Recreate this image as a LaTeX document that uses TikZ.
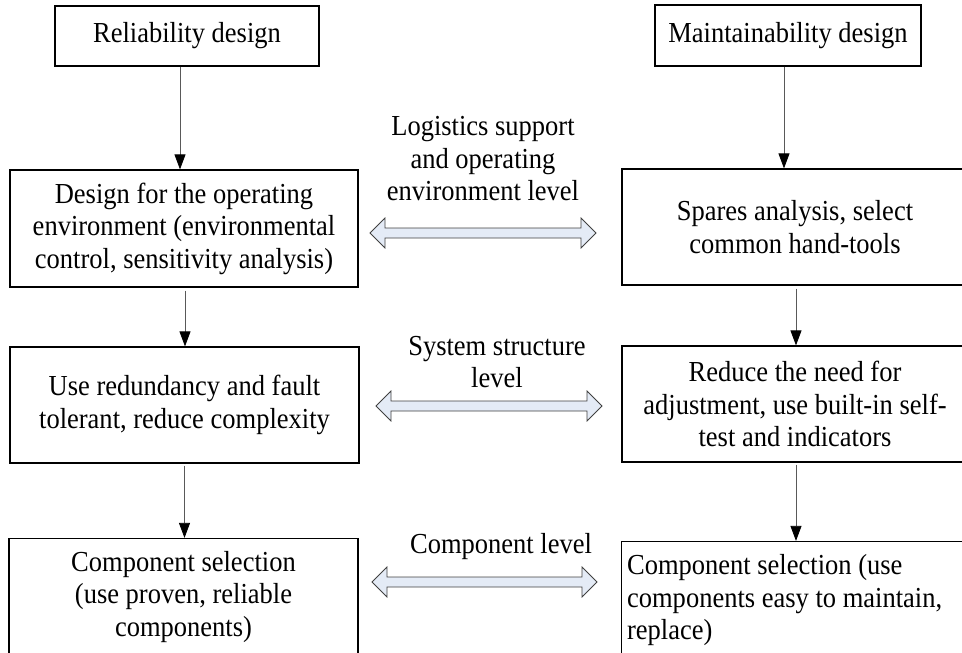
\documentclass[tikz,border=0pt]{standalone}
\usepackage{fontspec}
\setmainfont{Liberation Serif}[FakeStretch=0.914]
\usetikzlibrary{arrows.meta}
\definecolor{arrowfill}{HTML}{E4EBF6}
\definecolor{arrowline}{HTML}{404040}
\newcommand\mydblarrow[3]{%
  \draw[dbl] (#1,#3) -- (#1+15,#3-15) -- (#1+15,#3-5) -- (#2-15,#3-5) -- (#2-15,#3-15)
    -- (#2,#3) -- (#2-15,#3+15) -- (#2-15,#3+5) -- (#1+15,#3+5) -- (#1+15,#3+15) -- cycle;}
\begin{document}
\begin{tikzpicture}[x=1pt,y=-1pt,
  box/.style={draw=black,line width=1.2pt,align=center,inner sep=0pt,
    font=\fontsize{29}{32.5}\selectfont},
  lbl/.style={align=center,inner sep=0pt,font=\fontsize{29}{32.5}\selectfont},
  conn/.style={draw=black!65,line width=0.8pt,-{Triangle[length=15pt,width=11pt,color=black]}},
  dbl/.style={draw=arrowline,fill=arrowfill,line width=0.8pt,line join=miter}]
\useasboundingbox (0,0) rectangle (962,653);
\clip (0,0) rectangle (962,653);
% left column
\node[box,minimum width=264pt,minimum height=60pt] (R1) at (187,36) {Reliability design};
\node[box,minimum width=348pt,minimum height=117pt] (R2) at (184,228.5)
  {Design for the operating\\environment (environmental\\control, sensitivity analysis)};
\node[box,minimum width=349pt,minimum height=116pt] (R3) at (184.5,405)
  {Use redundancy and fault\\tolerant, reduce complexity};
\node[box,minimum width=349pt,minimum height=117pt] (R4) at (183.5,597)
  {Component selection\\(use proven, reliable\\components)};
% right column
\node[box,minimum width=266pt,minimum height=61pt] (M1) at (788,35.5) {Maintainability design};
\node[box,minimum width=346pt,minimum height=116pt] (M2) at (795,227)
  {Spares analysis, select\\common hand-tools};
\node[box,minimum width=346pt,minimum height=116pt] (M3) at (795,404)
  {Reduce the need for\\adjustment, use built-in self-\\test and indicators};
\node[box,minimum width=346pt,minimum height=116pt] (M4) at (794.5,599.5) {};
\node[lbl,align=left,anchor=west] (M4t) at ([xshift=6pt,yshift=-1pt]M4.west)
  {Component selection (use\\components easy to maintain,\\replace)};
% vertical connectors
\draw[conn] ([xshift=-7pt]R1.south) -- ([xshift=-7pt]R1.south |- R2.north);
\draw[conn] ([xshift=1pt,yshift=-3pt]R2.south) -- ([xshift=1pt]R2.south |- R3.north);
\draw[conn] ([yshift=-2pt]R3.south) -- (R3.south |- R4.north);
\draw[conn] ([xshift=-4pt]M1.south) -- ([xshift=-4pt]M1.south |- M2.north);
\draw[conn] ([xshift=1pt,yshift=-3pt]M2.south) -- ([xshift=1pt]M2.south |- M3.north);
\draw[conn] ([xshift=1pt,yshift=-2pt]M3.south) -- ([xshift=1pt]M3.south |- M4.north);
% level labels
\node[lbl] (L1) at (483,159) {Logistics support\\and operating\\environment level};
\node[lbl] (L2) at (497,362) {System structure\\level};
\node[lbl] (L3) at (501,547) {Component level};
% double arrows
\mydblarrow{370}{596}{233}
\mydblarrow{376}{602}{406}
\mydblarrow{372}{597}{582}
\end{tikzpicture}
\end{document}
